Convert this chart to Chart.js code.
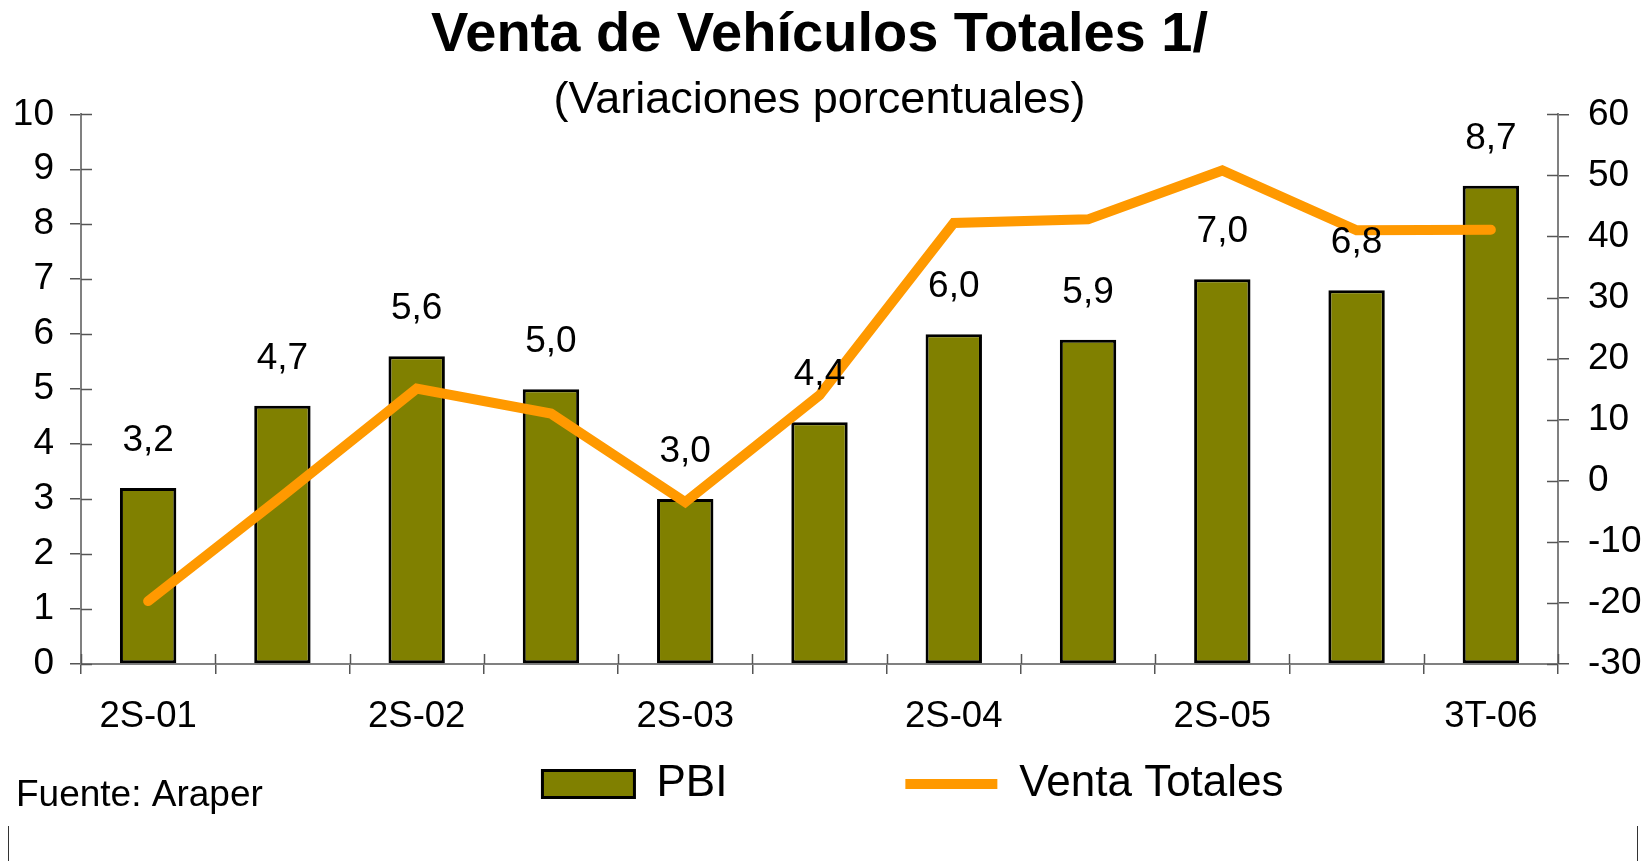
<!DOCTYPE html>
<html>
<head>
<meta charset="utf-8">
<script src="https://cdn.jsdelivr.net/npm/chart.js@4.4.1/dist/chart.umd.min.js"></script>
<style>
html,body{margin:0;padding:0;background:#ffffff;}
#wrap{width:1650px;height:861px;position:relative;}
canvas{display:block;}
</style>
</head>
<body>
<div id="wrap"><canvas id="c" width="1650" height="861"></canvas></div>
<script>
// ---- data ----
const categories = ['2S-01','1S-02','2S-02','1S-03','2S-03','1S-04','2S-04','1S-05','2S-05','1S-06','3T-06'];
const tickLabels = ['2S-01','','2S-02','','2S-03','','2S-04','','2S-05','','3T-06'];
const pbi = [3.2, 4.7, 5.6, 5.0, 3.0, 4.4, 6.0, 5.9, 7.0, 6.8, 8.7];
const ventaTotales = [-19.7, -2.5, 15.1, 11.0, -3.5, 14.0, 42.2, 42.8, 50.8, 41.0, 41.1];
const leftAxis = {min: 0, max: 10, step: 1};
const rightAxis = {min: -30, max: 60, step: 10};
const titleText = 'Venta de Vehículos Totales 1/';
const subtitleText = '(Variaciones porcentuales)';
const sourceText = 'Fuente: Araper';

const FONT = '"Liberation Sans", Arial, Helvetica, sans-serif';
Chart.defaults.font.family = FONT;
Chart.defaults.color = '#000000';

const fmt = v => v.toFixed(1).replace('.', ',');

const positionPlugin = {
  id: 'positionLegend',
  afterLayout(chart) {
    const lg = chart.legend;
    if (!lg) return;
    const dx = 88;
    const pad = lg.options.labels.padding;
    const targetTop = 784 - 22 - pad;
    lg.left += dx; lg.right += dx;
    lg.top = targetTop; lg.bottom = chart.height;
  }
};

const labelsPlugin = {
  id: 'barLabels',
  afterDatasetsDraw(chart) {
    const ctx = chart.ctx;
    const meta = chart.getDatasetMeta(0);
    ctx.save();
    ctx.font = '37px ' + FONT;
    ctx.fillStyle = '#000';
    ctx.textAlign = 'center';
    ctx.textBaseline = 'middle';
    meta.data.forEach((el, i) => {
      ctx.fillText(fmt(pbi[i]), el.x, el.y - 47);
    });
    ctx.restore();
  }
};

const decoPlugin = {
  id: 'deco',
  afterDraw(chart) {
    const ctx = chart.ctx;
    const xs = chart.scales.x, yl = chart.scales.y, yr = chart.scales.y1;
    const ca = chart.chartArea;
    ctx.save();
    ctx.strokeStyle = '#555';
    ctx.lineWidth = 1.5;
    const n = categories.length;
    const band = (xs.right - xs.left) / n;
    for (let i = 0; i <= n; i++) {
      const px = Math.round(xs.left + i * band) + 0.5;
      ctx.beginPath(); ctx.moveTo(px, ca.bottom - 10); ctx.lineTo(px, ca.bottom); ctx.stroke();
    }
    yl.ticks.forEach((t, i) => {
      const py = Math.round(yl.getPixelForTick(i)) + 0.5;
      ctx.beginPath(); ctx.moveTo(ca.left, py); ctx.lineTo(ca.left + 11, py); ctx.stroke();
    });
    yr.ticks.forEach((t, i) => {
      const py = Math.round(yr.getPixelForTick(i)) + 0.5;
      ctx.beginPath(); ctx.moveTo(ca.right - 11, py); ctx.lineTo(ca.right, py); ctx.stroke();
    });
    ctx.fillStyle = '#000';
    ctx.font = '37px ' + FONT;
    ctx.textAlign = 'left';
    ctx.textBaseline = 'alphabetic';
    ctx.fillText(sourceText, 16, 806);
    ctx.strokeStyle = '#333';
    ctx.lineWidth = 1;
    ctx.beginPath(); ctx.moveTo(8.5, 826); ctx.lineTo(8.5, 861); ctx.stroke();
    ctx.beginPath(); ctx.moveTo(1637.5, 826); ctx.lineTo(1637.5, 861); ctx.stroke();
    ctx.restore();
  }
};

const ctx = document.getElementById('c').getContext('2d');
new Chart(ctx, {
  data: {
    labels: categories,
    datasets: [
      {
        type: 'bar', label: 'PBI', data: pbi, yAxisID: 'y',
        backgroundColor: '#808000', borderColor: '#000000', borderWidth: 3,
        borderSkipped: false, barPercentage: 0.42, categoryPercentage: 1.0,
        order: 1, pointStyle: 'rect'
      },
      {
        type: 'line', label: 'Venta Totales', data: ventaTotales, yAxisID: 'y1',
        borderColor: '#FF9900', backgroundColor: '#FF9900', borderWidth: 10,
        pointRadius: 0, pointHoverRadius: 0, tension: 0,
        borderCapStyle: 'round', borderJoinStyle: 'miter',
        order: 0, pointStyle: 'line'
      }
    ]
  },
  options: {
    responsive: false,
    animation: false,
    devicePixelRatio: 1,
    layout: { padding: { top: 0, left: 0, right: 0, bottom: 0 } },
    plugins: {
      tooltip: { enabled: false },
      title: {
        display: true, fullSize: false, text: titleText, color: '#000',
        font: { size: 56, weight: 'bold' },
        padding: { top: 2, bottom: 0 }
      },
      subtitle: {
        display: true, fullSize: false, text: subtitleText, color: '#000',
        font: { size: 45, weight: 'normal' },
        padding: { top: 4.6, bottom: -13.5 }
      },
      legend: {
        display: true, position: 'bottom', align: 'center', maxHeight: 70,
        labels: {
          usePointStyle: true, pointStyleWidth: 92, boxHeight: 27,
          padding: 178, color: '#000', font: { size: 44 },
          sort: (a, b) => a.datasetIndex - b.datasetIndex
        }
      }
    },
    scales: {
      x: {
        offset: true,
        grid: { offset: true, drawOnChartArea: false, drawTicks: true, tickLength: 10, color: '#555', lineWidth: 1.5 },
        border: { display: true, color: '#808080', width: 2 },
        ticks: {
          autoSkip: false, maxRotation: 0, minRotation: 0, padding: 21,
          font: { size: 36.5 }, color: '#000',
          callback: (v, i) => tickLabels[i]
        },
        afterFit: s => { s.height = 127; }
      },
      y: {
        position: 'left', min: leftAxis.min, max: leftAxis.max,
        ticks: { stepSize: leftAxis.step, padding: 16, font: { size: 37 }, color: '#000' },
        grid: { drawOnChartArea: false, tickLength: 11, color: '#555', lineWidth: 1.5 },
        border: { display: true, color: '#808080', width: 2 },
        afterFit: s => { s.width = 81; }
      },
      y1: {
        position: 'right', min: rightAxis.min, max: rightAxis.max,
        ticks: { stepSize: rightAxis.step, padding: 19, font: { size: 37 }, color: '#000' },
        grid: { drawOnChartArea: false, tickLength: 11, color: '#555', lineWidth: 1.5 },
        border: { display: true, color: '#808080', width: 2 },
        afterFit: s => { s.width = 92; }
      }
    }
  },
  plugins: [positionPlugin, labelsPlugin, decoPlugin]
});
</script>
</body>
</html>
